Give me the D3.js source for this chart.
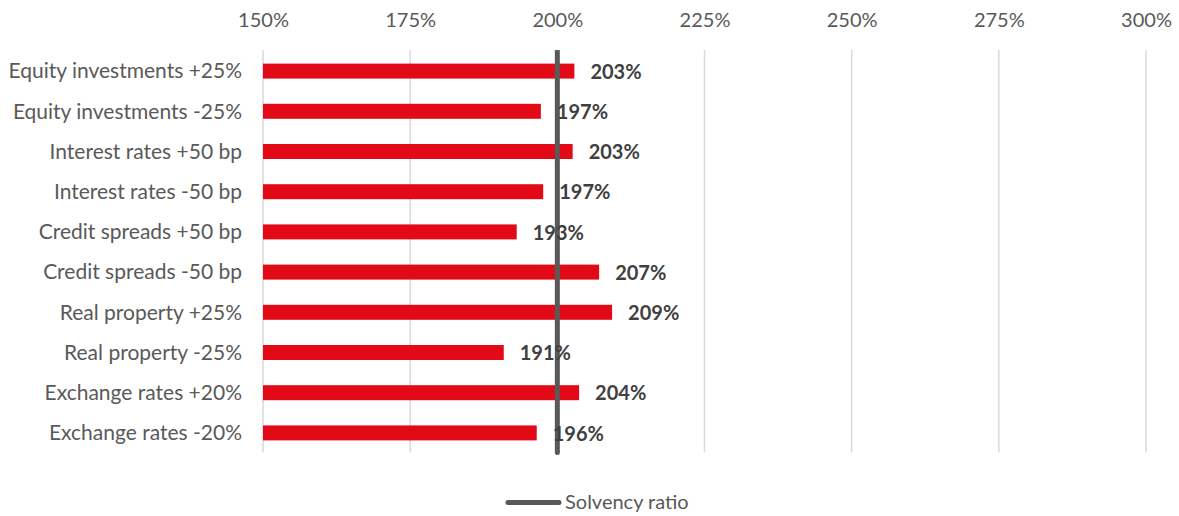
<!DOCTYPE html>
<html><head><meta charset="utf-8">
<script src="https://cdn.jsdelivr.net/npm/d3@7"></script>
<style>body{margin:0;background:#fff;}svg{display:block;}text{font-family:Lato,"Open Sans",sans-serif;}</style>
</head><body>
<svg id="c" width="1179" height="516"></svg>
<script>
const categories = ["Equity investments +25%","Equity investments -25%","Interest rates +50 bp","Interest rates -50 bp","Credit spreads +50 bp","Credit spreads -50 bp","Real property +25%","Real property -25%","Exchange rates +20%","Exchange rates -20%"];
const values = [202.9, 197.2, 202.6, 197.6, 193.1, 207.1, 209.3, 190.9, 203.7, 196.5];
const valueLabels = ["203%","197%","203%","197%","193%","207%","209%","191%","204%","196%"];
const solvencyRatio = 200;
const tickValues = [150,175,200,225,250,275,300];

const svg = d3.select("#c");
const x = d3.scaleLinear().domain([150,300]).range([263,1146]);
const y = d3.scaleBand().domain(categories).range([51,453]).paddingInner(0.627).paddingOuter(0.3135);

// gridlines
svg.append("g").selectAll("line").data(tickValues).join("line")
  .attr("x1", d=>x(d)).attr("x2", d=>x(d)).attr("y1",50).attr("y2",452.5)
  .attr("stroke","#d9d9d9").attr("stroke-width",1.5);

// top axis labels
const ax = svg.append("g").attr("transform","translate(0,27)")
  .call(d3.axisTop(x).tickValues(tickValues).tickFormat(d=>d+"%").tickSize(0).tickPadding(0));
ax.select(".domain").remove();
ax.selectAll("text").attr("font-size",20).attr("fill","#595959").attr("font-family","Lato,'Open Sans',sans-serif");

// category labels
const ay = svg.append("g").attr("transform","translate(242,0)")
  .call(d3.axisLeft(y).tickSize(0).tickPadding(0));
ay.select(".domain").remove();
ay.selectAll("text").attr("font-size",21).attr("fill","#595959").attr("font-family","Lato,'Open Sans',sans-serif").attr("dy","0.35em");

// bars
svg.append("g").selectAll("rect").data(values).join("rect")
  .attr("x", x(150)).attr("y",(d,i)=>y(categories[i]))
  .attr("width", d=>x(d)-x(150)).attr("height", y.bandwidth())
  .attr("fill","#E30A18");

// solvency line
svg.append("line").attr("x1",x(solvencyRatio)).attr("x2",x(solvencyRatio))
  .attr("y1",50).attr("y2",452.5).attr("stroke","#595959").attr("stroke-width",5);
svg.append("circle").attr("cx",x(solvencyRatio)).attr("cy",452.5).attr("r",2.5).attr("fill","#595959");

// data labels
svg.append("g").selectAll("text").data(values).join("text")
  .attr("x", d=>x(d)+16).attr("y",(d,i)=>y(categories[i])+y.bandwidth()/2)
  .attr("dy","0.38em").attr("font-size",20).attr("font-weight","bold").attr("fill","#404040")
  .text((d,i)=>valueLabels[i]);

// legend
svg.append("line").attr("x1",508).attr("x2",559).attr("y1",502.5).attr("y2",502.5)
  .attr("stroke","#595959").attr("stroke-width",5).attr("stroke-linecap","round");
svg.append("text").attr("x",565).attr("y",509).attr("font-size",20).attr("fill","#595959").text("Solvency ratio");
</script>
</body></html>
